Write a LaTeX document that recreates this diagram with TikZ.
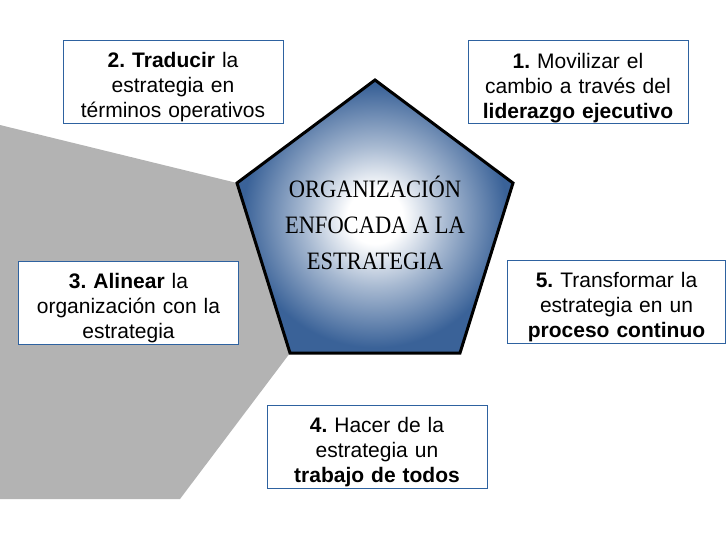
\documentclass[tikz,border=0pt]{standalone}
\usepackage{fontspec}
\setmainfont{Liberation Sans}
\newfontfamily\pentfont{Liberation Serif}[FakeStretch=0.9]
\usepackage{tikz}
\usetikzlibrary{calc,positioning,backgrounds}
\definecolor{pentblue}{RGB}{58,98,152}
\definecolor{boxblue}{RGB}{46,98,160}
\definecolor{wedgegray}{RGB}{179,179,179}
\pgfdeclareradialshading{pentglow}{\pgfpoint{0bp}{0bp}}{color(0bp)=(white); color(5bp)=(white); color(13bp)=(pentblue!45!white); color(24bp)=(pentblue); color(50bp)=(pentblue)}
\newcommand\boxlift{\rule{0pt}{27pt}}
\frenchspacing

\begin{document}
\begin{tikzpicture}[x=1pt,y=-1pt,
  stagebox/.style={draw=boxblue,line width=0.9pt,fill=white,minimum width=220pt,minimum height=83pt,text width=218pt,align=center,inner sep=0pt,font=\fontsize{21}{25}\selectfont,execute at begin node=\boxlift}]
\useasboundingbox (0,0) rectangle (726,536);
% corners of the pentagon
\coordinate (P1) at (375,80);
\coordinate (P2) at (513,183);
\coordinate (P3) at (460,353);
\coordinate (P4) at (290,353);
\coordinate (P5) at (237,183);
% grey wedge behind
\fill[wedgegray] (0,125) -- (P5) -- (P4) -- (180,499) -- (0,499) -- cycle;
\shade[shading=pentglow,draw=black,line width=3pt,miter limit=10] (P1) -- (P2) -- (P3) -- (P4) -- (P5) -- cycle;
\node[align=center,font=\pentfont\fontsize{25}{36}\selectfont] (core) at (375,223) {ORGANIZACIÓN\\ENFOCADA A LA\\ESTRATEGIA};
% the five stages
\node[stagebox] (s1) at (578,82) {\textbf{1.} Movilizar el\\cambio a través del\\\textbf{liderazgo ejecutivo}};
\node[stagebox] (s2) at (173,81.5) {\textbf{2. Traducir} la\\estrategia en\\términos operativos};
\node[stagebox] (s3) at (128.5,302.5) {\textbf{3. Alinear} la\\organización con la\\estrategia};
\node[stagebox] (s4) at (377,446.5) {\textbf{4.} Hacer de la\\estrategia un\\\textbf{trabajo de todos}};
\node[stagebox,minimum width=218pt] (s5) at (616.5,301.5) {\textbf{5.} Transformar la\\estrategia en un\\\textbf{proceso continuo}};
\end{tikzpicture}
\end{document}
